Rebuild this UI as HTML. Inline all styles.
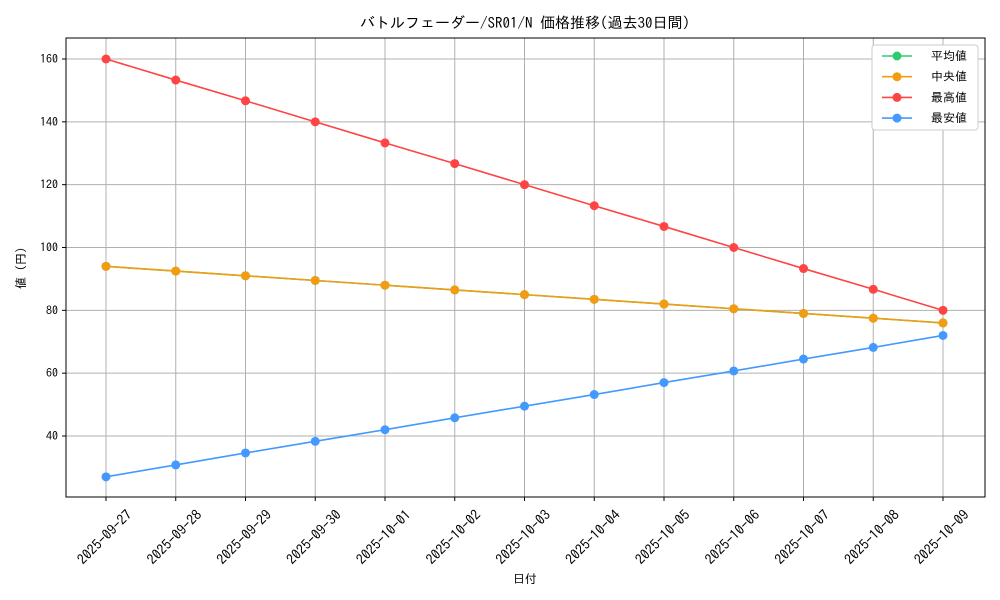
<!DOCTYPE html>
<html><head><meta charset="utf-8"><style>
body{margin:0;background:#fff}
svg{display:block;font-family:"IPAGothic","Liberation Sans","Noto Sans CJK JP",sans-serif}
</style></head><body>
<svg id="chart" width="1000" height="600"></svg>
<script>
const dates=["2025-09-27","2025-09-28","2025-09-29","2025-09-30","2025-10-01","2025-10-02","2025-10-03","2025-10-04","2025-10-05","2025-10-06","2025-10-07","2025-10-08","2025-10-09"];
const avgVals=[94,92.5,91,89.5,88,86.5,85,83.5,82,80.5,79,77.5,76];
const medVals=[94,92.5,91,89.5,88,86.5,85,83.5,82,80.5,79,77.5,76];
const maxVals=[160,153.3,146.7,140,133.3,126.7,120,113.3,106.7,100,93.3,86.7,80];
const minVals=[27,30.8,34.6,38.3,42,45.8,49.5,53.2,57,60.7,64.5,68.2,72];
const yTicks=[40,60,80,100,120,140,160];
const seriesNames=["平均値","中央値","最高値","最安値"];
const seriesColors=["#2ecc71","#f39c12","#ff4444","#4499ff"];
const ns="http://www.w3.org/2000/svg";
const svg=document.getElementById('chart');
const L=66,R=985,T=38,B=497;
const xs=i=>106+i*(943-106)/(dates.length-1);
const ys=v=>436-(v-40)*(377/120);
function mk(tag,attrs,parent){const e=document.createElementNS(ns,tag);for(const k in attrs)e.setAttribute(k,attrs[k]);(parent||svg).appendChild(e);return e;}
dates.forEach((d,i)=>{const g=mk('line',{x1:xs(i),x2:xs(i),y1:T,y2:B,stroke:'#b0b0b0','stroke-width':1});


mk('line',{x1:xs(i),x2:xs(i),y1:B,y2:B+4,stroke:'#000'});
const cx=xs(i)-1.5,cy=537;
const t=mk('text',{x:cx,y:cy,'font-size':14,'text-anchor':'middle','dominant-baseline':'central',transform:`rotate(-45 ${cx} ${cy})`});t.textContent=d;

});
yTicks.forEach(v=>{const g=mk('line',{x1:L,x2:R,y1:ys(v),y2:ys(v),stroke:'#b0b0b0','stroke-width':1});


mk('line',{x1:L-4,x2:L,y1:ys(v),y2:ys(v),stroke:'#000'});
const t=mk('text',{x:L-8,y:ys(v)+4,'font-size':12,'text-anchor':'end'});t.textContent=v;

});
const frame=mk('rect',{x:L,y:T,width:R-L,height:B-T,fill:'none',stroke:'#000'});


const all=[avgVals,medVals,maxVals,minVals];
all.forEach((vals,s)=>{const p=mk('polyline',{points:vals.map((v,i)=>xs(i)+','+ys(v)).join(' '),fill:'none',stroke:seriesColors[s],'stroke-width':1.6});


vals.forEach((v,i)=>{const c=mk('circle',{cx:xs(i),cy:ys(v),r:4.5,fill:seriesColors[s]});

});});
const title=mk('text',{x:525,y:28,'font-size':15,'text-anchor':'middle'});title.textContent="バトルフェーダー/SR01/N 価格推移(過去30日間)";


const xl=mk('text',{x:525,y:583,'font-size':12,'text-anchor':'middle'});xl.textContent="日付";


const yl=mk('text',{x:25,y:268,'font-size':12,'text-anchor':'middle',transform:'rotate(-90 25 268)'});yl.textContent="値 (円)";


const lg=mk('rect',{x:872,y:45,width:106,height:85,fill:'#fff',stroke:'#ccc',rx:3});


seriesNames.forEach((n,k)=>{const y=56+k*20.7;
mk('line',{x1:882,x2:912,y1:y,y2:y,stroke:seriesColors[k],'stroke-width':1.6});
mk('circle',{cx:897,cy:y,r:4.5,fill:seriesColors[k]});
const t=mk('text',{x:931,y:y+4,'font-size':12});t.textContent=n;

});
</script>
</body></html>
